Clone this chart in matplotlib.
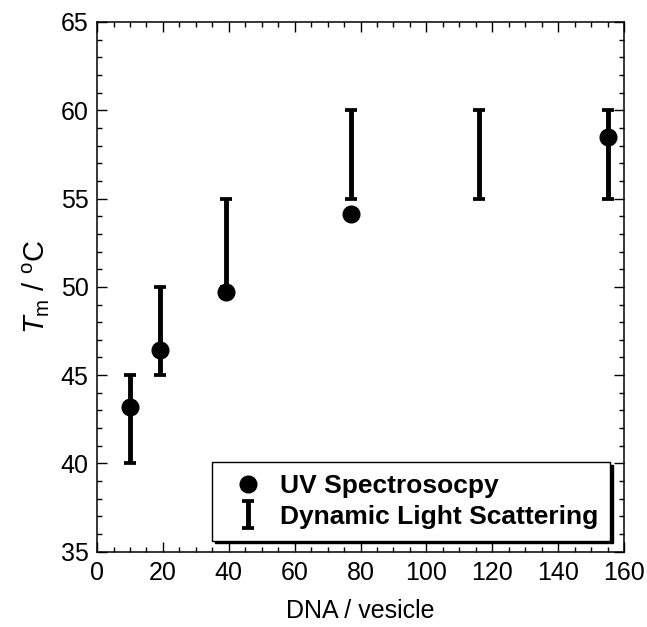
import numpy as np
import matplotlib
matplotlib.use('Agg')
import matplotlib.pyplot as plt
from matplotlib.ticker import MultipleLocator

plt.rcParams['font.family'] = ['Liberation Sans', 'DejaVu Sans']
plt.rcParams['mathtext.fontset'] = 'custom'
plt.rcParams['mathtext.it'] = 'Liberation Sans:italic'
plt.rcParams['mathtext.rm'] = 'Liberation Sans'

# UV spectroscopy melting temperatures
uvX = [10, 19, 39, 77, 155]
uvY = [43.2, 46.4, 49.7, 54.1, 58.5]

# dynamic light scattering: transition range (low, high)
dlsX = [10, 19, 39, 77, 116, 155]
dlsLow = [40, 45, 50, 55, 55, 55]
dlsHigh = [45, 50, 55, 60, 60, 60]

dlsX = np.array(dlsX)
dlsLow = np.array(dlsLow)
dlsHigh = np.array(dlsHigh)
dlsMid = (dlsLow + dlsHigh) / 2
dlsErr = (dlsHigh - dlsLow) / 2

fig = plt.figure(figsize=(6.47, 6.27), dpi=100)
ax = fig.add_axes([0.150, 0.120, 0.8145, 0.845])

eb = ax.errorbar(dlsX, dlsMid, yerr=dlsErr, fmt='none', ecolor='k',
                 elinewidth=3.5, capsize=4, capthick=2.7,
                 label='Dynamic Light Scattering', zorder=2)
pts, = ax.plot(uvX, uvY, 'o', color='k', ms=12, label='UV Spectrosocpy', zorder=3)

ax.set_xlim(0, 160)
ax.set_ylim(35, 65)
ax.xaxis.set_major_locator(MultipleLocator(20))
ax.xaxis.set_minor_locator(MultipleLocator(5))
ax.yaxis.set_major_locator(MultipleLocator(5))
ax.yaxis.set_minor_locator(MultipleLocator(1))
ax.tick_params(which='both', direction='in', top=True, right=True, width=1,
               labelsize=18)
ax.tick_params(axis='x', pad=7)
ax.tick_params(axis='y', pad=6)
ax.tick_params(which='major', length=7)
ax.tick_params(which='minor', length=3.5)
for sp in ax.spines.values():
    sp.set_linewidth(1.1)

ax.set_xlabel('DNA / vesicle', fontsize=18, labelpad=10)
ax.set_ylabel(r'$T_{\mathrm{m}}$ / $^{\mathrm{o}}$C', fontsize=21, labelpad=6)

leg = ax.legend([pts, eb], ['UV Spectrosocpy', 'Dynamic Light Scattering'],
                loc='lower right', bbox_to_anchor=(0.973, 0.021),
                borderaxespad=0, fancybox=False,
                shadow={'color': 'k', 'alpha': 1},
                prop={'weight': 'bold', 'size': 19}, handlelength=1.8,
                handletextpad=0.3, borderpad=0.45, labelspacing=0.25,
                framealpha=1)
leg.get_frame().set_edgecolor('k')
leg.get_frame().set_linewidth(1)

fig.savefig('out.png', dpi=100)
